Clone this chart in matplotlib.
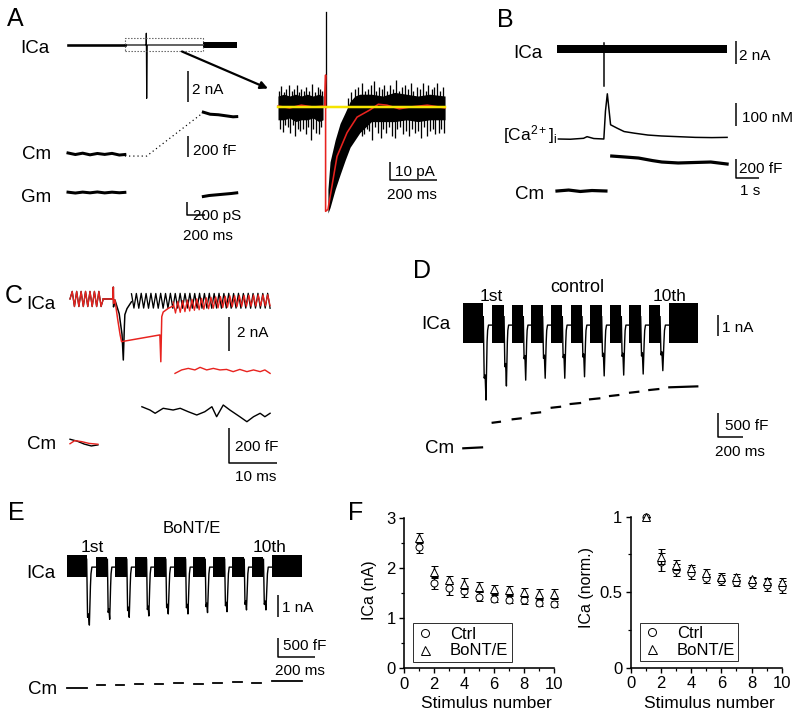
import numpy as np
import matplotlib
matplotlib.use('Agg')
import matplotlib.pyplot as plt
from matplotlib.lines import Line2D

plt.rcParams['font.family'] = ['Liberation Sans', 'DejaVu Sans']
plt.rcParams['mathtext.fontset'] = 'custom'
plt.rcParams['mathtext.rm'] = 'Liberation Sans'
plt.rcParams['mathtext.it'] = 'Liberation Sans:italic'

W, H = 800, 716
PX = 0.72  # points per pixel at 100 dpi

# ======================= DATA =======================
# ---- Panel A (time ms; ICa nA; Cm fF; Gm pS) ----
a_ica_pre_t = [0, 620]
a_ica_mid_t = [620, 852, 854, 858, 860, 864, 1473]
a_ica_mid_v = [0, 0, 0.76, -3.44, -2.13, 0, 0]
a_ica_post_t = [1473, 1843]
a_ica_post_half = 0.19
a_box_t = [620, 1473]
a_box_v = [-0.39, 0.45]
a_cm_pre_t = [0, 80, 160, 240, 320, 400, 480, 560, 620]
a_cm_pre_v = [10, -5, 8, -8, 5, -4, 6, -10, -5]
a_cm_gap_t = [620, 858, 1473]
a_cm_gap_v = [-20, -20, 400]
a_cm_post_t = [1476, 1550, 1640, 1720, 1800, 1840]
a_cm_post_v = [405, 385, 380, 370, 360, 362]
a_gm_pre_t = [0, 80, 160, 240, 320, 400, 480, 560, 620]
a_gm_pre_v = [5, -8, 6, -5, 8, -6, 5, -4, 2]
a_gm_post_t = [1476, 1540, 1620, 1700, 1780, 1840]
a_gm_post_v = [-60, -45, -35, -25, -15, -5]

# ---- Panel A inset (ms; pA) ----
in_pre_t = [0, 25, 50, 75, 100, 125, 150, 175, 193]
in_pre_hi = [6, 7, 6, 7, 6, 7, 6, 7, 6]
in_pre_lo = [-7, -7, -6, -8, -7, -7, -6, -8, -7]
in_post_t = [214, 223, 245, 266, 288, 309, 330, 351, 400, 450, 500, 550, 600, 650, 716]
in_post_hi = [-45, -30, -18, -9, -3, 3, 6, 7, 7, 6, 8, 7, 6, 7, 6]
in_post_lo = [-58, -55, -45, -37, -29, -22, -18, -14, -8, -8, -8, -7, -8, -7, -7]
in_up_t = [5, 15, 25, 35, 48, 58, 68, 80, 90, 100, 112, 122, 135, 145, 158, 170, 180, 190,
           300, 315, 330, 345, 360, 373, 385, 398, 410, 420, 433, 445, 455, 468, 480, 493,
           505, 518, 530, 545, 558, 570, 580, 595, 608, 620, 633, 645, 658, 670, 683, 695, 708]
in_up_v = [9, 11.5, 8, 10, 12, 9, 10, 12, 8, 10, 9, 11, 9, 12.5, 8, 11, 10, 9,
           5, 8, 10, 11, 13, 9, 10, 12, 14, 9, 11, 10, 12, 9, 12, 10,
           15, 9, 11, 12, 10, 13, 9, 11, 10, 13, 9, 12, 10, 11, 13, 9, 11]
in_dn_t = [8, 20, 30, 42, 52, 63, 75, 85, 95, 106, 118, 130, 140, 152, 163, 175, 186,
           360, 370, 380, 392, 403, 415, 428, 440, 450, 462, 475, 487, 500, 512, 525, 537,
           550, 562, 575, 588, 600, 612, 625, 638, 650, 663, 675, 688, 700, 712]
in_dn_v = [-12, -13.5, -10, -11, -14, -10, -16, -12, -13, -12, -15, -11, -18, -12, -14, -15, -11,
           -16, -15, -12, -13, -18, -11, -14, -17, -12, -14, -11, -16, -17, -12, -11, -15,
           -13, -16, -12, -14, -13, -17, -11, -16, -13, -12, -15, -14, -12, -14]
in_spike_t = [204, 204]
in_spike_v = [0, 52]
in_red_t = [0, 50, 100, 150, 200, 204, 204, 214, 253, 296, 339, 394, 430, 467, 520, 566, 640, 716]
in_red_v = [0.5, -0.5, 1, 0, 0.5, 17.5, -57, -56, -27, -14, -5.5, -1.6, 1.5, 1, -1, 0, 1, -0.5]
in_yel_t = [0, 716]

# ---- Panel B (time s; ICa nA; Ca nM; Cm fF) ----
b_ica_t = [0, 7.3]
b_ica_half = 0.35
b_spike_t = [2.02, 2.02]
b_spike_v = [0.5, -3.2]
b_ca_t = [0.06, 0.57, 1.14, 1.29, 1.58, 2.01, 2.08, 2.16, 2.30, 2.59, 2.88, 3.32, 3.90, 4.48, 5.20, 5.93, 6.65, 7.30]
b_ca_v = [0, -1, 3, 10, 2, 0, 120, 194, 61, 46, 32, 25, 17, 13, 10, 7, 6, 7]
b_cm_pre_t = [0, 0.5, 1.0, 1.5, 2.1]
b_cm_pre_v = [0, 10, -5, 5, 0]
b_cm_post_t = [2.35, 2.8, 3.5, 4.1, 4.5, 5.2, 5.9, 6.6, 7.3]
b_cm_post_v = [368, 360, 347, 320, 305, 295, 300, 305, 284]

# ---- Panel C (time ms; ICa nA; Cm fF) ----
c_osc1_t = [0, 7.04]
c_osc1_v = [0.06, 0.50, -0.38, 0.50, -0.38, 0.50, -0.38, 0.50, -0.38,
            0.50, -0.38, 0.50, -0.38, 0.50, -0.38, 0.06]
c_black_t = [7.04, 9.10, 9.16, 9.20, 9.5, 10.4, 11.0, 11.27, 11.5, 11.6, 12.05, 13.0]
c_black_v = [0.06, 0.06, 0.75, -0.4, 0.0, -0.8, -2.0, -3.49, -1.5, -0.85, -0.5, -0.1]
c_black_osc_t = [13.0, 42.3]
c_black_osc_v = [0.36, -0.47, 0.38, -0.48, 0.39, -0.47, 0.38, -0.48, 0.39, -0.47,
                 0.38, -0.48, 0.39, -0.48, 0.38, -0.47, 0.39, -0.48, 0.38, -0.47,
                 0.39, -0.48, 0.38, -0.47, 0.39, -0.48, 0.38, -0.47, 0.39, -0.48,
                 0.38, -0.47, 0.39, -0.48, 0.38, -0.47, 0.39, -0.48, 0.38, -0.47,
                 0.39, -0.48, 0.38, -0.47, 0.39, -0.48, 0.38, -0.47, 0.39, -0.48,
                 0.38, -0.47, 0.39, -0.48, 0.38, -0.47, 0.39, -0.48]
c_red_t = [7.04, 9.10, 9.16, 9.20, 9.5, 10.1, 10.6, 10.9, 19.0, 19.2, 19.4, 19.7, 20.8, 21.8]
c_red_v = [0.06, 0.06, 0.75, -0.2, 0.0, -1.16, -2.03, -2.42, -2.03, -3.59, -0.97, -0.7, -0.48, -0.35]
c_red_osc_t = [21.8, 42.3]
c_red_osc_v = [-0.12, -0.76, -0.08, -0.72, -0.04, -0.68, 0.0, -0.64, 0.04, -0.60,
               0.07, -0.57, 0.10, -0.54, 0.13, -0.51, 0.16, -0.48, 0.18, -0.46,
               0.20, -0.44, 0.22, -0.42, 0.24, -0.40, 0.25, -0.39, 0.26, -0.38,
               0.27, -0.37, 0.28, -0.36, 0.29, -0.35, 0.30, -0.34, 0.30, -0.34,
               0.31, -0.33]
c_cm_black_pre_t = [0, 1.5, 3.0, 4.5, 5.9]
c_cm_black_pre_v = [16, 5, -12, -23, -17]
c_cm_red_pre_t = [0, 1.0, 2.5, 4.0, 5.9]
c_cm_red_pre_v = [-10, 8, 2, -8, -13]
c_cm_black_t = [15.2, 16.9, 18.0, 19.7, 21.8, 23.3, 25.0, 26.8, 28.5, 30.0, 31.0,
                32.4, 33.8, 35.9, 37.4, 38.8, 40.2, 41.2, 42.3]
c_cm_black_v = [205, 186, 167, 196, 186, 196, 176, 157, 176, 205, 147,
                215, 186, 147, 118, 147, 167, 147, 167]
c_cm_red_t = [22.2, 23.6, 25.0, 26.4, 27.5, 28.9, 30.3, 31.7, 33.1, 34.5,
              35.9, 37.4, 38.8, 40.2, 41.2, 42.3]
c_cm_red_v = [399, 419, 428, 419, 434, 419, 428, 419, 422, 409,
              422, 409, 419, 409, 419, 399]

# ---- Panel D, control (time ms; ICa nA; Cm fF) ----
d_blk_start = [0, 232, 389, 544, 702, 858, 1016, 1174, 1328, 1486, 1648]
d_blk_end = [160, 326, 480, 635, 792, 950, 1107, 1264, 1419, 1574, 1880]
d_blk_top = [0.94, 0.86, 0.86, 0.86, 0.86, 0.86, 0.86, 0.86, 0.86, 0.86, 0.94]
d_blk_bot = [-0.97] * 11
d_step = [-2.62, -2.08, -1.70, -1.68, -1.65, -1.62, -1.59, -1.59, -1.57, -1.52]
d_deep = [-3.67, -3.0, -2.72, -2.63, -2.63, -2.56, -2.52, -2.48, -2.43, -2.27]
d_cm_t0 = [0, 235, 395, 547, 707, 859, 1014, 1174, 1334, 1488, 1648]
d_cm_t1 = [150, 293, 459, 614, 774, 934, 1088, 1240, 1400, 1560, 1872]
d_cm_v = [0, 548, 621, 749, 869, 949, 1049, 1120, 1191, 1248, 1306]

# ---- Panel E, BoNT/E ----
e_blk_start = [0, 155, 259, 365, 468, 574, 679, 783, 888, 991, 1098]
e_blk_end = [107, 218, 322, 428, 531, 637, 742, 846, 951, 1054, 1259]
e_blk_top = [0.49, 0.40, 0.40, 0.40, 0.40, 0.40, 0.40, 0.40, 0.40, 0.40, 0.49]
e_blk_bot = [-0.51] * 11
e_step = [-2.30, -2.08, -2.00, -1.95, -1.87, -1.87, -1.82, -1.78, -1.72, -1.72]
e_deep = [-2.65, -2.39, -2.30, -2.24, -2.15, -2.15, -2.09, -2.05, -1.97, -1.97]
e_cm_t0 = [0, 161, 264, 366, 473, 575, 682, 785, 892, 994, 1098]
e_cm_t1 = [107, 205, 307, 411, 517, 621, 728, 830, 937, 1039, 1259]
e_cm_v = [0, 84, 76, 101, 109, 127, 109, 127, 152, 142, 185]

# ---- Panel F ----
stim = [1, 2, 3, 4, 5, 6, 7, 8, 9, 10]
ctrl_nA = [2.42, 1.69, 1.59, 1.53, 1.43, 1.39, 1.37, 1.36, 1.31, 1.29]
ctrl_nA_err = [0.12, 0.12, 0.12, 0.10, 0.08, 0.07, 0.07, 0.07, 0.06, 0.06]
bont_nA = [2.59, 1.92, 1.76, 1.68, 1.61, 1.57, 1.55, 1.51, 1.48, 1.48]
bont_nA_err = [0.10, 0.12, 0.08, 0.11, 0.10, 0.09, 0.08, 0.09, 0.10, 0.09]
ctrl_norm = [1.0, 0.70, 0.647, 0.625, 0.592, 0.581, 0.57, 0.559, 0.548, 0.536]
ctrl_norm_err = [0, 0.058, 0.04, 0.04, 0.03, 0.033, 0.03, 0.033, 0.038, 0.039]
bont_norm = [1.0, 0.735, 0.68, 0.658, 0.625, 0.603, 0.599, 0.585, 0.576, 0.57]
bont_norm_err = [0, 0.049, 0.033, 0.022, 0.027, 0.026, 0.021, 0.018, 0.016, 0.022]

# ======================= FIGURE =======================
fig = plt.figure(figsize=(8, 7.16), dpi=100)
RED = '#e8231f'
LAB = 13.5   # trace labels
SB = 11      # scale-bar labels


def ax_at(x0, y0, sx, sy, xlim, ylim):
    """invisible axes: data origin at pixel (x0, y0), sx / sy pixels per unit"""
    left = x0 + xlim[0] * sx
    right = x0 + xlim[1] * sx
    top = y0 - ylim[1] * sy
    bottom = y0 - ylim[0] * sy
    ax = fig.add_axes([left / W, 1 - bottom / H, (right - left) / W, (bottom - top) / H])
    ax.set_xlim(xlim)
    ax.set_ylim(ylim)
    ax.set_axis_off()
    return ax


def ln(ax, t, v, lw=1.3, color='k', **kw):
    ax.plot(t, v, color=color, lw=lw * PX, clip_on=False, **kw)


def band(ax, t, lo, hi, color='k'):
    ax.fill_between(t, lo, hi, color=color, lw=0, clip_on=False)


def osc(ax, trange, vals, color='k', lw=1.3):
    t = np.linspace(trange[0], trange[1], len(vals))
    ln(ax, t, vals, lw=lw, color=color)


def txt(x, yc, s, size=LAB, ha='left'):
    base = yc + 0.716 * size * 100 / 72 / 2
    fig.text(x / W, 1 - base / H, s, fontsize=size, ha=ha, va='baseline')


def vbar(ax, t, v0, v1, lw=1.5):
    ln(ax, [t, t], [v0, v1], lw=lw, solid_capstyle='butt')


def lbar(ax, t, v0, v1, t1, lw=1.5):
    ln(ax, [t, t, t1], [v0, v1, v1], lw=lw, solid_capstyle='butt')


# ---------------- Panel A ----------------
axA_i = ax_at(68, 45, 0.0917, 15.5, (-50, 1900), (-4, 1))
axA_c = ax_at(68, 154, 0.0917, 0.1033, (-50, 1900), (-60, 420))
axA_g = ax_at(68, 192.5, 0.0917, 0.0667, (-50, 1900), (-360, 60))
ln(axA_i, a_ica_pre_t, [0, 0], lw=2.6)
ln(axA_i, a_ica_mid_t, a_ica_mid_v, lw=1.2)
band(axA_i, a_ica_post_t, [-a_ica_post_half] * 2, [a_ica_post_half] * 2)
axA_i.plot([a_box_t[0], a_box_t[1], a_box_t[1], a_box_t[0], a_box_t[0]],
           [a_box_v[0], a_box_v[0], a_box_v[1], a_box_v[1], a_box_v[0]],
           color='#555555', lw=0.8, ls=(0, (1.2, 1.5)), clip_on=False)
vbar(axA_i, 1312, -1.66, -3.66)
ln(axA_c, a_cm_pre_t, a_cm_pre_v, lw=3)
ln(axA_c, a_cm_gap_t, a_cm_gap_v, lw=1.2, ls=(0, (1, 2.5)))
ln(axA_c, a_cm_post_t, a_cm_post_v, lw=3)
vbar(axA_c, 1312, 174, -26)
ln(axA_g, a_gm_pre_t, a_gm_pre_v, lw=3)
ln(axA_g, a_gm_post_t, a_gm_post_v, lw=3)
lbar(axA_g, 1294, -138, -338, 1494)

txt(6.7, 17, 'A', 18)
txt(20.7, 46, 'ICa')
txt(21.7, 152, 'Cm')
txt(20.7, 195, 'Gm')
txt(191.7, 88.7, '2 nA', SB)
txt(192.7, 149.7, '200 fF', SB)
txt(192.7, 215, '200 pS', SB)
txt(182.7, 235, '200 ms', SB)

overlay = fig.add_axes([0, 0, 1, 1])
overlay.set_xlim(0, W)
overlay.set_ylim(H, 0)
overlay.set_axis_off()
overlay.annotate('', xy=(268, 88.5), xytext=(182, 51.5),
                 arrowprops=dict(arrowstyle='-|>', lw=1.6, color='k', mutation_scale=11,
                                 shrinkA=0, shrinkB=0))

# inset
axIn = ax_at(278, 107, 0.2333, 1.83, (-10, 730), (-60, 56))
band(axIn, in_pre_t, in_pre_lo, in_pre_hi)
band(axIn, in_post_t, in_post_lo, in_post_hi)
axIn.vlines(in_up_t, 0, in_up_v, color='k', lw=1.3 * PX, clip_on=False)
axIn.vlines(in_dn_t, 0, in_dn_v, color='k', lw=1.3 * PX, clip_on=False)
ln(axIn, in_spike_t, in_spike_v, lw=1.3)
ln(axIn, in_red_t, in_red_v, lw=1.6, color=RED)
ln(axIn, in_yel_t, [0, 0], lw=2.5, color='#f5e400')
lbar(axIn, 480, -30, -40, 680)
txt(395, 171, '10 pA', SB)
txt(386.7, 194, '200 ms', SB)

# ---------------- Panel B ----------------
axB_i = ax_at(557, 49, 23.3, 11.5, (-0.2, 8.8), (-3.5, 1.5))
axB_ca = ax_at(557, 139, 23.3, 0.233, (-0.2, 8.8), (-20, 220))
axB_c = ax_at(557, 191, 23.3, 0.095, (-0.2, 8.8), (-200, 420))
band(axB_i, b_ica_t, [-b_ica_half] * 2, [b_ica_half] * 2)
ln(axB_i, b_spike_t, b_spike_v, lw=1.5)
vbar(axB_i, 7.68, 0.7, -1.3)
ln(axB_ca, b_ca_t, b_ca_v, lw=1.5)
vbar(axB_ca, 7.68, 155, 55)
ln(axB_c, b_cm_pre_t, b_cm_pre_v, lw=3.2)
ln(axB_c, b_cm_post_t, b_cm_post_v, lw=3.2)
lbar(axB_c, 7.68, 334, 134, 8.68)
txt(496.7, 18.3, 'B', 18)
txt(513, 51, 'ICa')
fig.text(503 / W, 1 - 140 / H, r'[Ca$^{2+}$]$_\mathrm{i}$', fontsize=12.5, ha='left', va='baseline')
txt(515, 192, 'Cm')
txt(739, 55, '2 nA', SB)
txt(741.7, 117, '100 nM', SB)
txt(739, 168, '200 fF', SB)
txt(740, 190, '1 s', SB)

# ---------------- Panel C ----------------
axC_i = ax_at(70, 300, 4.73, 17.2, (-1, 45), (-4, 1))
axC_c = ax_at(70, 442, 4.73, 0.172, (-1, 45), (-150, 460))
osc(axC_i, c_osc1_t, c_osc1_v, color='k')
ln(axC_i, c_black_t, c_black_v, lw=1.5)
osc(axC_i, c_black_osc_t, c_black_osc_v, color='k', lw=1.3)
osc(axC_i, c_osc1_t, c_osc1_v, color=RED, lw=1.3)
ln(axC_i, c_red_t, c_red_v, lw=1.5, color=RED)
osc(axC_i, c_red_osc_t, c_red_osc_v, color=RED, lw=1.3)
vbar(axC_i, 33.7, -0.97, -2.97)
ln(axC_c, c_cm_black_pre_t, c_cm_black_pre_v, lw=1.4)
ln(axC_c, c_cm_red_pre_t, c_cm_red_pre_v, lw=1.4, color=RED)
ln(axC_c, c_cm_black_t, c_cm_black_v, lw=1.4)
ln(axC_c, c_cm_red_t, c_cm_red_v, lw=1.4, color=RED)
lbar(axC_c, 33.7, 80, -120, 43.7)
txt(5, 294, 'C', 18)
txt(26.7, 302.7, 'ICa')
txt(26.7, 442, 'Cm')
txt(236.7, 332, '2 nA', SB)
txt(235, 446, '200 fF', SB)
txt(235, 476, '10 ms', SB)

# ---------------- Panels D and E ----------------
PULSE_F = [0, 0.1, 0.2, 0.3, 0.42, 0.48, 0.58, 1.0]


def pulse_trace(ax, starts, ends, tops, bots, steps, deeps, rest):
    for k in range(len(starts)):
        band(ax, [starts[k], ends[k]], [bots[k]] * 2, [tops[k]] * 2)
    for k in range(len(steps)):
        t0 = ends[k]
        g = starts[k + 1] - t0
        t = [t0 + f * g for f in PULSE_F]
        v = [0.3, steps[k], steps[k] + 0.15, deeps[k], -0.9, -0.35, rest, rest]
        ln(ax, t, v, lw=1.4)


axD_i = ax_at(463.3, 323, 0.125, 21, (-20, 2300), (-4, 1.2))
axD_c = ax_at(463.3, 448.3, 0.125, 0.0467, (-20, 2300), (-100, 1400))
pulse_trace(axD_i, d_blk_start, d_blk_end, d_blk_top, d_blk_bot, d_step, d_deep, -0.1)
vbar(axD_i, 2040, 0.38, -0.62)
for k in range(len(d_cm_v)):
    ln(axD_c, [d_cm_t0[k], d_cm_t1[k]], [d_cm_v[k], d_cm_v[k] + 20], lw=2.2)
lbar(axD_c, 2040, 749, 248, 2240)
txt(413, 269, 'D', 18)
txt(490.8, 295, '1st', 12.5, ha='center')
txt(577.5, 286, 'control', 13, ha='center')
txt(669.5, 295, '10th', 12.5, ha='center')
txt(421.7, 322, 'ICa')
txt(425, 446, 'Cm')
txt(721.7, 327, '1 nA', SB)
txt(725, 425, '500 fF', SB)
txt(715, 451, '200 ms', SB)

axE_i = ax_at(66.7, 566, 0.1867, 22.3, (-20, 1400), (-3, 1))
axE_c = ax_at(66.7, 688.3, 0.1867, 0.0394, (-20, 1400), (-100, 1400))
pulse_trace(axE_i, e_blk_start, e_blk_end, e_blk_top, e_blk_bot, e_step, e_deep, -0.05)
vbar(axE_i, 1130, -1.30, -2.30)
for k in range(len(e_cm_v)):
    ln(axE_c, [e_cm_t0[k], e_cm_t1[k]], [e_cm_v[k], e_cm_v[k]], lw=1.8)
lbar(axE_c, 1130, 1284, 787, 1330)
txt(8.3, 511, 'E', 18)
txt(191.5, 527, 'BoNT/E', 12, ha='center')
txt(92, 546, '1st', 12.5, ha='center')
txt(270, 546, '10th', 12.5, ha='center')
txt(26.7, 571, 'ICa')
txt(28.3, 687, 'Cm')
txt(281.7, 607, '1 nA', SB)
txt(283, 645, '500 fF', SB)
txt(275, 670, '200 ms', SB)

# ---------------- Panel F ----------------
txt(348, 511, 'F', 18)
axL = fig.add_axes([404 / W, 1 - 668.3 / H, 150 / W, 150.6 / H])
axR = fig.add_axes([630.7 / W, 1 - 667.7 / H, 151 / W, 151 / H])


def style_f(ax):
    for s in ('top', 'right'):
        ax.spines[s].set_visible(False)
    for s in ('left', 'bottom'):
        ax.spines[s].set_linewidth(1.6 * PX)
    ax.tick_params(which='major', direction='out', length=5 * PX, width=1.4 * PX,
                   labelsize=12, pad=2.5)
    ax.tick_params(which='minor', direction='out', length=3 * PX, width=1.2 * PX)
    ax.set_xlim(0, 10)
    ax.set_xticks([0, 2, 4, 6, 8, 10])
    ax.set_xticks([1, 3, 5, 7, 9], minor=True)


def draw_f(ax, c, ce, b, be):
    kw = dict(mfc='white', mec='k', mew=1.0 * PX, ecolor='k', elinewidth=1.4 * PX,
              capsize=3.5 * PX, capthick=1.4 * PX, clip_on=False, ls='none')
    e1 = ax.errorbar(stim, c, yerr=ce, fmt='o', ms=7 * PX, zorder=3, **kw)
    e2 = ax.errorbar(stim, b, yerr=be, fmt='^', ms=8 * PX, zorder=4, **kw)
    for e in (e1, e2):
        for art in e.lines[1] + e.lines[2]:
            art.set_clip_on(False)
    h = [Line2D([], [], ls='none', marker='o', mfc='white', mec='k', mew=1.0 * PX, ms=8 * PX),
         Line2D([], [], ls='none', marker='^', mfc='white', mec='k', mew=1.0 * PX, ms=9 * PX)]
    leg = ax.legend(h, ['Ctrl', 'BoNT/E'], loc='lower left', bbox_to_anchor=(0.062, 0.044),
                    borderaxespad=0, fontsize=12, frameon=True, fancybox=False,
                    handlelength=1.0, handletextpad=1.0, borderpad=0.2, labelspacing=0.1)
    leg.get_frame().set_edgecolor('k')
    leg.get_frame().set_linewidth(1.0 * PX)


style_f(axL)
axL.set_ylim(0, 3)
axL.set_yticks([0, 1, 2, 3])
axL.set_yticks([0.5, 1.5, 2.5], minor=True)
draw_f(axL, ctrl_nA, ctrl_nA_err, bont_nA, bont_nA_err)
axL.set_ylabel('ICa (nA)', fontsize=11.5)
axL.yaxis.set_label_coords(-0.227, 0.52)
axL.yaxis.label.set_va('center')
axL.set_xlabel('Stimulus number', fontsize=12.5)
axL.xaxis.set_label_coords(0.547, -0.235)
axL.xaxis.label.set_va('center')

style_f(axR)
axR.set_ylim(0, 1)
axR.set_yticks([0, 0.5, 1])
axR.set_yticklabels(['0', '0.5', '1'])
axR.set_yticks([0.25, 0.75], minor=True)
draw_f(axR, ctrl_norm, ctrl_norm_err, bont_norm, bont_norm_err)
axR.set_ylabel('ICa (norm.)', fontsize=11.5)
axR.yaxis.set_label_coords(-0.293, 0.528)
axR.yaxis.label.set_va('center')
axR.set_xlabel('Stimulus number', fontsize=12.5)
axR.xaxis.set_label_coords(0.52, -0.235)
axR.xaxis.label.set_va('center')

fig.savefig('out.png', dpi=100)
